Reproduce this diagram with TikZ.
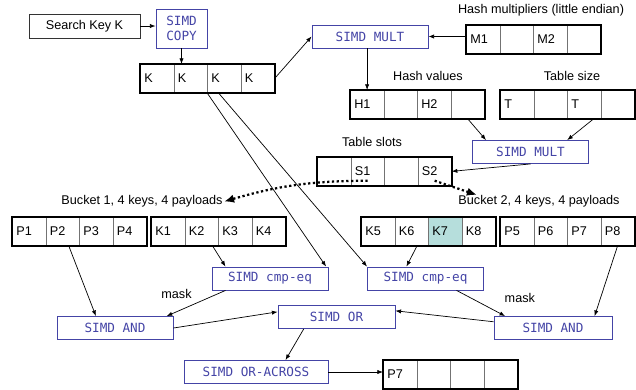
\documentclass[tikz,border=0pt]{standalone}
\usepackage{fontspec}
\setmainfont{Liberation Sans}
\setmonofont{DejaVu Sans Mono}
\usepackage{xcolor}
\usepackage{tikz}
\usetikzlibrary{arrows.meta,calc,positioning}

\definecolor{opblue}{HTML}{4444A6}
\definecolor{hit}{HTML}{B6DEDC}

\begin{document}
\begin{tikzpicture}[x=0.025cm, y=-0.025cm, font=\fontsize{9}{11}\selectfont,
  cell/.style={draw=black!55, line width=0.5pt, anchor=north west, minimum height=0.7cm,
    text width=0.6375cm, inner xsep=0.1cm, inner ysep=0pt, align=left},
  reg/.style={draw=black, line width=1.4pt},
  op/.style={draw=opblue, line width=0.6pt, text=opblue, font=\fontsize{9}{11}\ttfamily,
    minimum width=2.9cm, minimum height=0.575cm, inner sep=0pt},
  lab/.style={inner sep=1pt},
  arr/.style={-{Latex[length=4pt,width=3pt]}, line width=0.5pt},
  slot/.style={line width=1.6pt, dash pattern=on 1.6pt off 1.8pt, -{Latex[length=7pt,width=6pt]}}]

\useasboundingbox (0,0) rectangle (636,389);

% Clave de busqueda
\node[draw=black!80, line width=0.6pt, minimum width=2.775cm, minimum height=0.6cm, inner sep=0pt]
  (key) at (84.5,26) {Search Key K};
\node[op, minimum width=1.275cm, minimum height=0.975cm, align=center]
  (copy) at (181.5,28.5) {SIMD\\COPY};

\foreach \t [count=\i] in {K,K,K,K}
  \node[cell] (k\i) at ({140+33.5*(\i-1)},64) {\t};
\draw[reg] (k1.north west) rectangle (k4.south east);

% Multiplicadores y hash
\node[lab] (mlab) at (541,10) {Hash multipliers (little endian)};
\foreach \t [count=\i] in {M1,{},M2,{}}
  \node[cell] (m\i) at ({466+33.5*(\i-1)},25) {\t};
\draw[reg] (m1.north west) rectangle (m4.south east);

\node[op] (mult1) at (370,36.5) {SIMD MULT};

\node[lab] (hlab) at (428,76) {Hash values};
\foreach \t [count=\i] in {H1,{},H2,{}}
  \node[cell] (h\i) at ({350+33.5*(\i-1)},90) {\t};
\draw[reg] (h1.north west) rectangle (h4.south east);

\node[lab] (tlab) at (572,76) {Table size};
\foreach \t [count=\i] in {T,{},T,{}}
  \node[cell] (t\i) at ({500+33.5*(\i-1)},90) {\t};
\draw[reg] (t1.north west) rectangle (t4.south east);

\node[op] (mult2) at (530.5,152) {SIMD MULT};

% Slots de la tabla
\node[lab] (slab) at (372,142) {Table slots};
\foreach \t [count=\i] in {{},S1,{},S2}
  \node[cell] (s\i) at ({317+33.5*(\i-1)},157) {\t};
\draw[reg] (s1.north west) rectangle (s4.south east);

% Buckets
\node[lab] (b1lab) at (142,201.5) {Bucket 1, 4 keys, 4 payloads};
\node[lab] (b2lab) at (539,201.5) {Bucket 2, 4 keys, 4 payloads};

\foreach \t [count=\i] in {P1,P2,P3,P4}
  \node[cell] (pa\i) at ({12+33.5*(\i-1)},217) {\t};
\draw[reg] (pa1.north west) rectangle (pa4.south east);

\foreach \t [count=\i] in {K1,K2,K3,K4}
  \node[cell] (ka\i) at ({151+33.5*(\i-1)},217) {\t};
\draw[reg] (ka1.north west) rectangle (ka4.south east);

\foreach \t/\c [count=\i] in {K5/white,K6/white,K7/hit,K8/white}
  \node[cell, fill=\c] (kb\i) at ({361+33.5*(\i-1)},217) {\t};
\draw[reg] (kb1.north west) rectangle (kb4.south east);

\foreach \t [count=\i] in {P5,P6,P7,P8}
  \node[cell] (pb\i) at ({500+33.5*(\i-1)},217) {\t};
\draw[reg] (pb1.north west) rectangle (pb4.south east);

% Operaciones
\node[op] (cmp1) at (270,278.5) {SIMD cmp-eq};
\node[op] (cmp2) at (425.5,278.5) {SIMD cmp-eq};
\node[op] (and1) at (115,328) {SIMD AND};
\node[op, minimum width=2.925cm] (or) at (336.5,317) {SIMD OR};
\node[op, minimum width=2.95cm] (and2) at (553,328) {SIMD AND};
\node[op, minimum width=3.6cm] (across) at (256,372) {SIMD OR-ACROSS};

% Resultado
\foreach \t [count=\i] in {P7,{},{},{}}
  \node[cell] (r\i) at ({383+33.5*(\i-1)},360) {\t};
\draw[reg] (r1.north west) rectangle (r4.south east);

% Flechas
\draw[arr] (key.east) -- (key.east -| copy.west);
\draw[arr] (copy.south) -- (copy.south |- k2.north);
\draw[arr] (k4.east) -- (mult1.west);
\draw[arr] (m1.west |- mult1) -- (mult1.east);
\draw[arr] (h1.north |- mult1.south) -- (h1.north);
\draw[arr] (h4.south) -- (mult2.165);
\draw[arr] (t3.-56) -- (mult2.18);
\draw[arr] (mult2.south) -- (s4.east);

\draw[slot] ($(s2.south)+(0,-5)$) to[bend right=8] (b1lab.east);
\draw[slot] ($(s4.south)+(0,-5)$) -- ($(b2lab.north west)+(20,1)$);

\draw[arr] (k3.south west) -- (cmp1.12);
\draw[arr] (k3.-112) -- (cmp2.north west);
\draw[arr] (ka2.-53) -- (cmp1.165);
\draw[arr] (kb2.-69) -- (cmp2.148);
\draw[arr] (pa2.-67) -- (and1.148);
\draw[arr] (pb4.south) -- (and2.16);

\draw[arr] (cmp1.-165) -- node[lab, above left=1pt and 4pt, pos=0.45] (mask1) {mask} (and1.13);
\draw[arr] (cmp2.-21) -- node[lab, above right=0pt and 14pt, pos=0.55] (mask2) {mask} (and2.166);

\draw[arr] (and1.east) -- (or.175);
\draw[arr] (and2.174) -- (or.6);
\draw[arr] (or.-160) -- (across.22);
\draw[arr] (across.east) -- (across.east -| r1.west);

\end{tikzpicture}
\end{document}
